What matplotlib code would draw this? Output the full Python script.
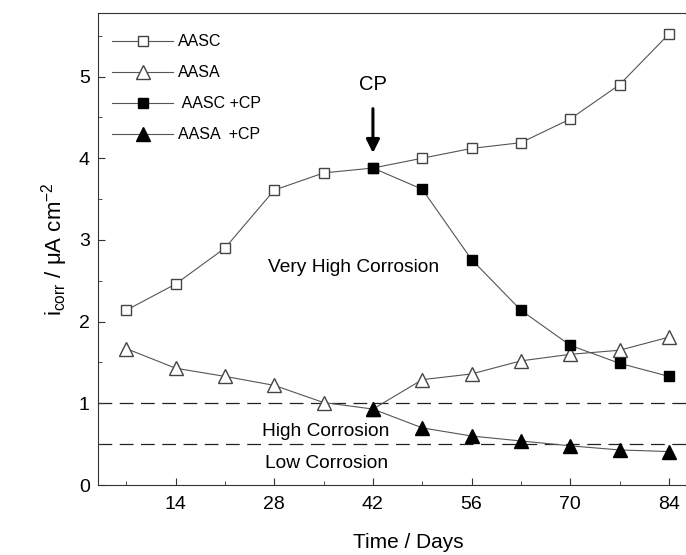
import matplotlib
matplotlib.use("Agg")
import matplotlib.pyplot as plt
from matplotlib.ticker import MultipleLocator

plt.rcParams['font.family'] = ['Liberation Sans', 'DejaVu Sans']
plt.rcParams['mathtext.fontset'] = 'custom'
plt.rcParams['mathtext.rm'] = 'Liberation Sans'
plt.rcParams['mathtext.it'] = 'Liberation Sans'

# Data (days, i_corr in uA/cm2)
days = [7, 14, 21, 28, 35, 42, 49, 56, 63, 70, 77, 84]
aasc = [2.14, 2.46, 2.90, 3.61, 3.82, 3.88, 4.00, 4.12, 4.19, 4.48, 4.90, 5.52]
aasa = [1.67, 1.43, 1.33, 1.22, 1.01, 0.93, 1.29, 1.36, 1.52, 1.60, 1.65, 1.81]
cp_days = [42, 49, 56, 63, 70, 77, 84]
aasc_cp = [3.88, 3.62, 2.76, 2.14, 1.71, 1.49, 1.33]
aasa_cp = [0.93, 0.70, 0.60, 0.54, 0.48, 0.43, 0.41]
limits = [1.0, 0.5]

fig = plt.figure(figsize=(6.86, 5.55), dpi=100)
ax = fig.add_axes([0.143, 0.126, 0.904, 0.851])

lc = '#555555'
ax.plot(days, aasc, '-', color=lc, lw=0.8, marker='s', ms=7.5, mfc='white',
        mec='#444444', mew=1.0, label='AASC')
ax.plot(days, aasa, '-', color=lc, lw=0.8, marker='^', ms=9.5, mfc='white',
        mec='#444444', mew=1.0, label='AASA')
ax.plot(cp_days, aasc_cp, '-', color=lc, lw=0.8, marker='s', ms=7.5, mfc='black',
        mec='black', label=' AASC +CP')
ax.plot(cp_days, aasa_cp, '-', color=lc, lw=0.8, marker='^', ms=9.5, mfc='black',
        mec='black', label='AASA  +CP')

for v in limits:
    ax.axhline(v, color='#222222', lw=0.9, ls=(0, (11, 6)), zorder=0)

ax.text(39.2, 2.66, 'Very High Corrosion', fontsize=13.8, ha='center', va='center')
ax.text(35.3, 0.66, 'High Corrosion', fontsize=13.8, ha='center', va='center')
ax.text(35.4, 0.27, 'Low Corrosion', fontsize=13.8, ha='center', va='center')
ax.text(42, 4.9, 'CP', fontsize=14.5, ha='center', va='center')
ax.annotate('', xy=(42, 4.03), xytext=(42, 4.64),
            arrowprops=dict(arrowstyle='-|>', color='black', lw=2.2,
                            mutation_scale=20))

ax.set_xlim(3, 91)
ax.set_ylim(0, 5.78)
ax.xaxis.set_major_locator(MultipleLocator(14))
ax.xaxis.set_minor_locator(MultipleLocator(7))
ax.yaxis.set_major_locator(MultipleLocator(1))
ax.yaxis.set_minor_locator(MultipleLocator(0.5))
ax.set_xticks([14, 28, 42, 56, 70, 84])
ax.tick_params(which='both', direction='in', labelsize=14, color='#333333')
ax.tick_params(which='major', length=5)
ax.tick_params(which='minor', length=3)
ax.tick_params(axis='x', pad=8)
ax.tick_params(axis='y', pad=6)
for s in ax.spines.values():
    s.set_color('#333333')

ax.set_xlabel('Time / Days', fontsize=15, labelpad=14)
ax.set_ylabel(r'i$_{\mathrm{corr}}$ / μA cm$^{\mathrm{-2}}$', fontsize=16, labelpad=6)

ax.legend(loc='upper left', bbox_to_anchor=(0.0, 0.985), frameon=False,
          fontsize=11.5, handlelength=3.8, labelspacing=1.0, handletextpad=0.3)

fig.savefig('out.png', dpi=100)
